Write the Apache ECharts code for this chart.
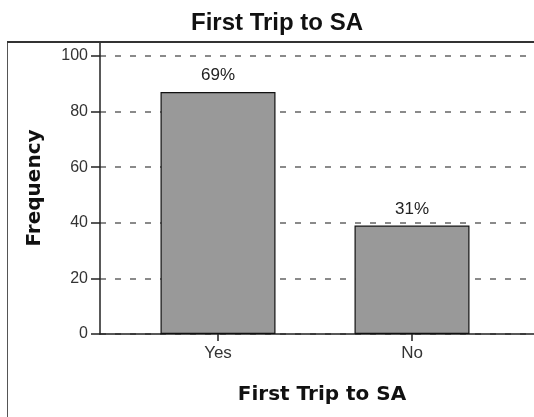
<!DOCTYPE html>
<html>
<head>
<meta charset="utf-8">
<script src="https://cdn.jsdelivr.net/npm/echarts@6/dist/echarts.min.js"></script>
<style>
  html, body { margin: 0; padding: 0; background: #fff; }
  #chart { width: 534px; height: 417px; }
</style>
</head>
<body>
<div id="chart"></div>
<script>
// First trip to SA: response counts per answer
const categories = ['Yes', 'No'];
const frequencies = [87, 39];
const yTicks = [0, 20, 40, 60, 80, 100];

const total = frequencies.reduce((a, b) => a + b, 0);
const percentLabel = (v) => Math.round(v / total * 100) + '%';

const chart = echarts.init(document.getElementById('chart'), null, { renderer: 'canvas' });

const yMin = yTicks[0];
const yStep = yTicks[1] - yTicks[0];
const yMax = 105;

chart.setOption({
  animation: false,
  backgroundColor: '#ffffff',
  title: {
    text: 'First Trip to SA',
    left: 272,
    textAlign: 'center',
    top: 6,
    textStyle: {
      fontFamily: 'Liberation Sans',
      fontWeight: 'bold',
      fontSize: 24,
      color: '#111'
    }
  },
  graphic: [
    {
      type: 'rect',
      shape: { x: 7.5, y: 41.5, width: 600, height: 500 },
      style: { fill: 'none', stroke: '#555', lineWidth: 1 },
      silent: true,
      z: -1
    },
    {
      type: 'line',
      shape: { x1: 7, y1: 42, x2: 534, y2: 42 },
      style: { stroke: '#333', lineWidth: 2 },
      silent: true,
      z: 10
    }
  ],
  grid: [
    // frame for the value axis, baseline and dashed gridlines
    { left: 100, top: 42, right: 0, bottom: 83 },
    // bar area, category centres
    { left: 121, top: 42, right: 25, bottom: 83 }
  ],
  xAxis: [
    {
      gridIndex: 0,
      type: 'category',
      data: categories,
      axisLine: { show: true, lineStyle: { color: '#222', width: 1.5 } },
      axisTick: { show: false },
      axisLabel: { show: false },
      splitLine: { show: false }
    },
    {
      gridIndex: 1,
      type: 'category',
      data: categories,
      axisLine: { show: false },
      axisTick: { show: true, alignWithLabel: true, length: 7, lineStyle: { color: '#222', width: 1.5 } },
      axisLabel: {
        margin: 11,
        fontFamily: 'Liberation Sans',
        fontSize: 17,
        color: '#333'
      },
      name: 'First Trip to SA',
      nameLocation: 'middle',
      nameGap: 51,
      nameTextStyle: {
        fontFamily: 'DejaVu Sans',
        fontWeight: 'bold',
        fontSize: 20,
        color: '#111',
        padding: [0, 0, 0, 14]
      }
    }
  ],
  yAxis: [
    {
      gridIndex: 0,
      type: 'value',
      min: yMin,
      max: yMax,
      interval: yStep,
      axisLine: { show: true, lineStyle: { color: '#222', width: 1.5 } },
      axisTick: {
        show: true,
        length: 9,
        customValues: yTicks,
        lineStyle: { color: '#222', width: 1.5 }
      },
      axisLabel: {
        margin: 12,
        customValues: yTicks,
        fontFamily: 'Liberation Sans',
        fontSize: 16,
        color: '#333'
      },
      splitLine: {
        show: true,
        lineStyle: { color: '#8a8a8a', width: 2, type: [6, 9] }
      },
      name: 'Frequency',
      nameLocation: 'middle',
      nameRotate: 90,
      nameGap: 55,
      nameTextStyle: {
        fontFamily: 'DejaVu Sans',
        fontWeight: 'bold',
        fontSize: 20,
        color: '#111'
      }
    },
    {
      gridIndex: 1,
      type: 'value',
      min: yMin,
      max: yMax,
      interval: yStep,
      show: false,
      splitLine: { show: false }
    }
  ],
  series: [{
    type: 'bar',
    xAxisIndex: 1,
    yAxisIndex: 1,
    data: frequencies,
    barWidth: 115,
    itemStyle: { color: '#999999', borderColor: '#111', borderWidth: 1.2 },
    label: {
      show: true,
      position: 'top',
      distance: 8,
      fontFamily: 'Liberation Sans',
      fontSize: 17,
      color: '#222',
      formatter: (p) => percentLabel(p.value)
    }
  }]
});
</script>
</body>
</html>
